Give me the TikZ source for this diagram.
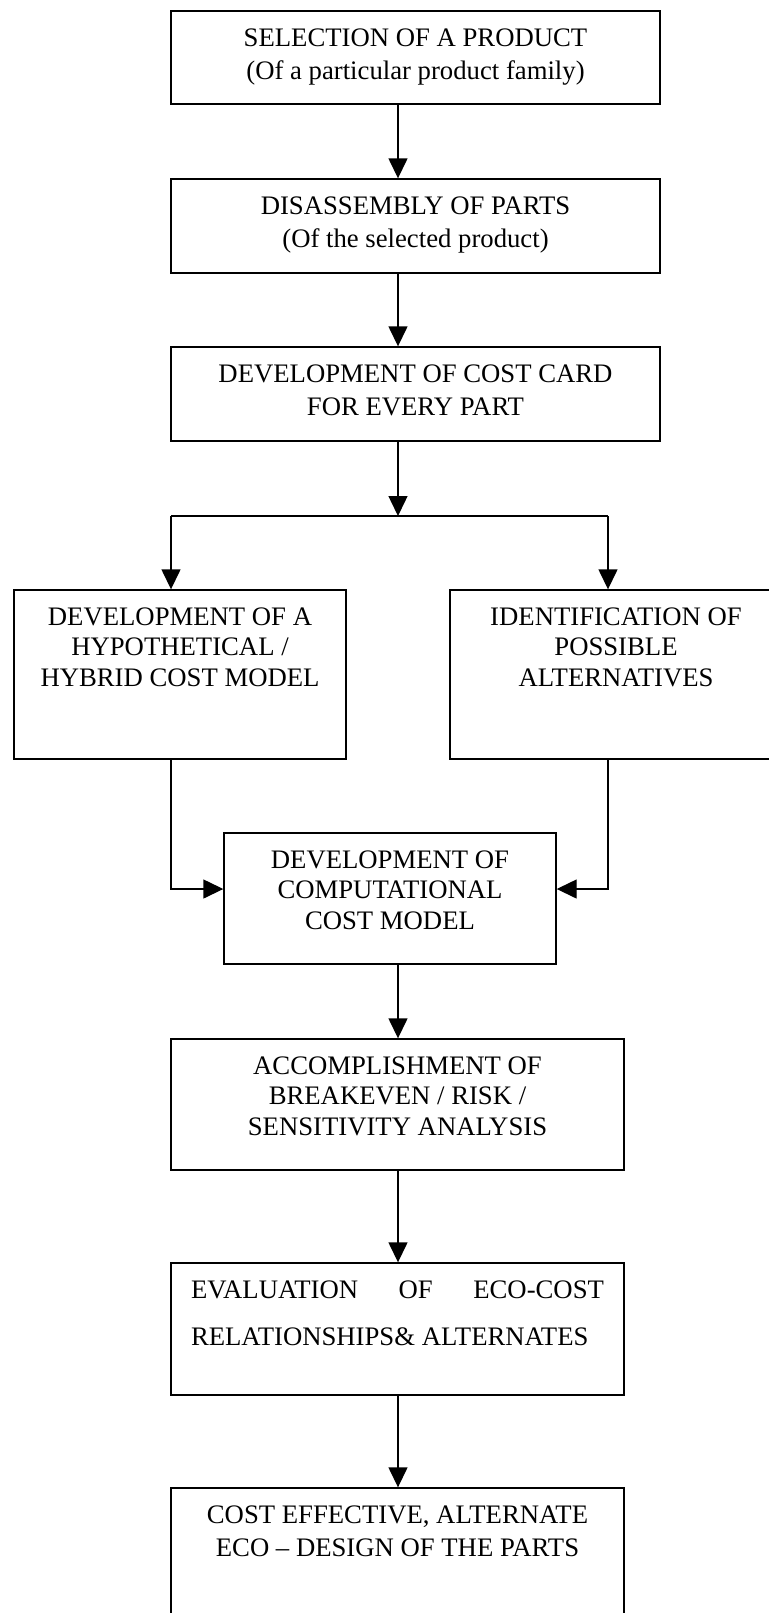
\documentclass[tikz,border=0pt]{standalone}
\usepackage{fontspec}
\setmainfont{Liberation Serif}
\usetikzlibrary{positioning,arrows.meta}

\begin{document}
\begin{tikzpicture}[
        box/.style={draw, line width=0.8pt, inner sep=0pt},
        txt/.style={inner sep=0pt, align=center, font=\fontsize{15.2}{#1}\selectfont},
        txt/.default=18.8pt,
        arr/.style={-{Triangle[length=0.4cm,width=0.38cm]}, line width=0.8pt}]
        \path[use as bounding box, clip] (0,0) rectangle (15.38,-32.26);

        \node[box, minimum width=9.78cm, minimum height=1.86cm] (sel) at (8.31,-1.15) {};
        \node[txt, below=0.36cm of sel.north] (selt) {SELECTION OF A PRODUCT\\(Of a particular product family)};
        \node[box, minimum width=9.78cm, minimum height=1.88cm] (dis) at (8.31,-4.52) {};
        \node[txt, below=0.36cm of dis.north] (dist) {DISASSEMBLY OF PARTS\\(Of the selected product)};
        \node[box, minimum width=9.78cm, minimum height=1.88cm] (card) at (8.31,-7.88) {};
        \node[txt, below=0.36cm of card.north] (cardt) {DEVELOPMENT OF COST CARD\\FOR EVERY PART};

        \node[box, minimum width=6.64cm, minimum height=3.38cm] (hyp) at (3.60,-13.49) {};
        \node[txt=17.4pt, below=0.36cm of hyp.north] (hypt) {DEVELOPMENT OF A\\HYPOTHETICAL /\\HYBRID COST MODEL};
        \node[box, minimum width=6.64cm, minimum height=3.38cm] (alt) at (12.32,-13.49) {};
        \node[txt=17.4pt, below=0.36cm of alt.north] (altt) {IDENTIFICATION OF\\POSSIBLE\\ALTERNATIVES};

        \node[box, minimum width=6.64cm, minimum height=2.62cm] (comp) at (7.80,-17.97) {};
        \node[txt=17.4pt, below=0.36cm of comp.north] (compt) {DEVELOPMENT OF\\COMPUTATIONAL\\COST MODEL};
        \node[box, minimum width=9.06cm, minimum height=2.62cm] (risk) at (7.95,-22.09) {};
        \node[txt=17.4pt, below=0.36cm of risk.north] (riskt) {ACCOMPLISHMENT OF\\BREAKEVEN / RISK /\\SENSITIVITY ANALYSIS};
        \node[box, minimum width=9.06cm, minimum height=2.64cm] (eco) at (7.95,-26.58) {};
        \node[txt=26.7pt, align=left, below=0.36cm of eco.north] (ecot) {\makebox[8.26cm][s]{EVALUATION OF ECO-COST}\\RELATIONSHIPS\& ALTERNATES};
        \node[box, minimum width=9.06cm, minimum height=3.40cm] (design) at (7.95,-31.46) {};
        \node[txt, below=0.36cm of design.north] (designt) {COST EFFECTIVE, ALTERNATE\\ECO -- DESIGN OF THE PARTS};

        \coordinate (j) at (7.96,-10.32);
        \coordinate (lf) at (3.42,-17.78);
        \coordinate (rf) at (12.16,-17.78);

        \draw[arr] (sel.south -| j) -- (dis.north -| j);
        \draw[arr] (dis.south -| j) -- (card.north -| j);
        \draw[arr] (card.south -| j) -- (j);
        \draw[line width=0.8pt] (lf |- j) -- (rf |- j);
        \draw[arr] (lf |- j) -- (hyp.north -| lf);
        \draw[arr] (rf |- j) -- (alt.north -| rf);
        \draw[arr] (hyp.south -| lf) -- (lf) -- (comp.west |- lf);
        \draw[arr] (alt.south -| rf) -- (rf) -- (comp.east |- rf);
        \draw[arr] (comp.south -| j) -- (risk.north -| j);
        \draw[arr] (risk.south -| j) -- (eco.north -| j);
        \draw[arr] (eco.south -| j) -- (design.north -| j);
\end{tikzpicture}
\end{document}
